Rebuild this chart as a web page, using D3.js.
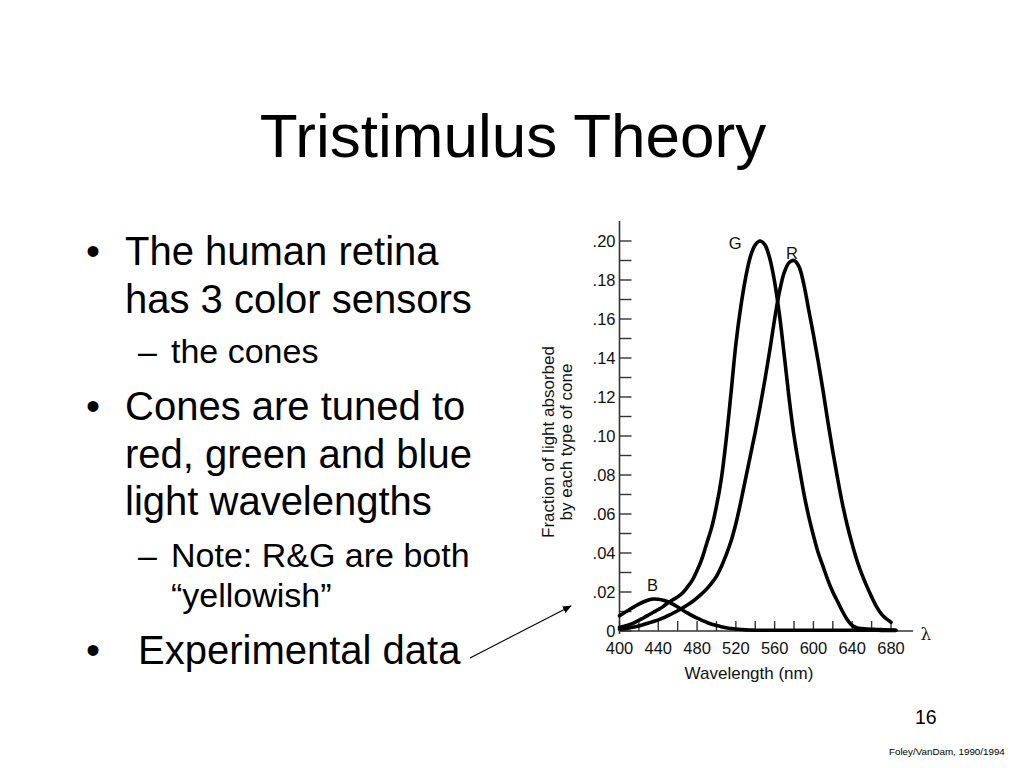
<!DOCTYPE html>
<html><head><meta charset="utf-8">
<script src="https://cdn.jsdelivr.net/npm/d3@7"></script>
<style>
body{margin:0;background:#fff}
svg{display:block;font-family:"Liberation Sans",Arial,Helvetica,sans-serif}
</style>
</head><body>
<svg id="c" width="1024" height="768"></svg>
<script>
// ---- data ----
const wavelengths = [400,405,410,415,420,425,430,435,440,445,450,455,460,465,470,475,480,485,490,495,500,505,510,515,520,525,530,535,540,545,550,555,560,565,570,575,580,585,590,595,600,605,610,615,620,625,630,635,640,645,650,655,660,665,670,675,680,685];
const greenValues = [.0018,.0025,.0032,.0042,.0055,.0068,.0082,.0096,.011,.0125,.0145,.016,.0175,.0195,.0225,.026,.031,.037,.045,.053,.064,.078,.098,.122,.147,.166,.181,.192,.198,.200,.198,.191,.179,.162,.141,.119,.100,.085,.071,.059,.049,.040,.033,.026,.020,.015,.010,.0058,.0028,.0016,.0012,.001,.0009,.0008,.0007,.0006,.0005,.0004];
const redValues = [.001,.0012,.0015,.002,.0026,.0033,.0041,.0049,.0057,.0067,.0079,.0091,.0104,.0118,.0133,.015,.017,.0192,.0216,.0245,.028,.033,.039,.046,.055,.066,.078,.090,.102,.115,.129,.144,.160,.174,.184,.189,.190,.187,.178,.165,.152,.138,.123,.107,.092,.078,.065,.054,.0445,.036,.029,.023,.0175,.0125,.0088,.0063,.0045,null];
const blueValues = [.0078,.0094,.0109,.0124,.0138,.015,.0159,.0164,.0163,.0158,.015,.0138,.0123,.0108,.0093,.0079,.0066,.0054,.0044,.0035,.0028,.0022,.0017,.0013,.001,.0008,.0006,.0005,.0004,.0004,.0004,.0004,.0004,.0004,.0004,.0004,.0004,.0004,.0004,.0004,.0004,.0004,.0004,.0004,.0004,.0004,.0004,.0004,.0004,.0004,.0004,.0004,.0004,.0004,.0003,.0003,.0003,.0003];
const seriesNames = ["G","R","B"];
const xTickValues = [400,440,480,520,560,600,640,680];
const xMinorTicks = [400,420,440,460,480,500,520,540,560,580,600,620,640,660,680];
const yTickValues = [0,.02,.04,.06,.08,.10,.12,.14,.16,.18,.20];
const yTickLabels = ["0",".02",".04",".06",".08",".10",".12",".14",".16",".18",".20"];
const yMinorTicks = [0,.01,.02,.03,.04,.05,.06,.07,.08,.09,.10,.11,.12,.13,.14,.15,.16,.17,.18,.19,.20];
const titleText = "Tristimulus Theory";
const bullets = [
  {level:0, lines:["The human retina","has 3 color sensors"]},
  {level:1, lines:["the cones"]},
  {level:0, lines:["Cones are tuned to","red, green and blue","light wavelengths"]},
  {level:1, lines:["Note: R&G are both","\u201Cyellowish\u201D"]},
  {level:2, lines:["Experimental data"]}
];

// ---- drawing ----
const svg = d3.select("#c");
const x = d3.scaleLinear().domain([400,680]).range([619.5,891]);
const y = d3.scaleLinear().domain([0,0.20]).range([631,241]);

// title
svg.append("text").attr("x",513).attr("y",157).attr("text-anchor","middle")
  .attr("font-size",62).attr("fill","#000").text(titleText);

// bullets
const baselines = [[265,313],[363],[420,468,515],[567,607],[664]];
bullets.forEach((b,i)=>{
  b.lines.forEach((ln,j)=>{
    const by = baselines[i][j];
    if (b.level===0 || b.level===2){
      if(j===0) svg.append("text").attr("x",86).attr("y",by).attr("font-size",40).text("\u2022");
      svg.append("text").attr("x", b.level===2?138:125).attr("y",by).attr("font-size",40).text(ln);
    } else {
      if(j===0) svg.append("text").attr("x",138).attr("y",by).attr("font-size",34).text("\u2013");
      svg.append("text").attr("x",171).attr("y",by).attr("font-size",34).text(ln);
    }
  });
});

// arrow
svg.append("defs").append("marker").attr("id","ah").attr("viewBox","0 0 10 10")
  .attr("refX",9).attr("refY",5).attr("markerWidth",9).attr("markerHeight",9)
  .attr("orient","auto").attr("markerUnits","userSpaceOnUse")
  .append("path").attr("d","M0,1 L10,5 L0,9 Z").attr("fill","#000");
svg.append("line").attr("x1",470).attr("y1",658).attr("x2",571).attr("y2",606)
  .attr("stroke","#000").attr("stroke-width",1.2).attr("marker-end","url(#ah)");

// axes
const g = svg.append("g");
const axisColor = "#333";
g.append("line").attr("x1",x(400)).attr("x2",x(400)).attr("y1",221).attr("y2",634)
  .attr("stroke",axisColor).attr("stroke-width",1.6);
g.append("line").attr("x1",x(400)).attr("x2",913).attr("y1",y(0)).attr("y2",y(0))
  .attr("stroke",axisColor).attr("stroke-width",1.6);
g.selectAll(".yt").data(yMinorTicks).join("line")
  .attr("x1",x(400)).attr("x2",x(400)+12).attr("y1",d=>y(d)).attr("y2",d=>y(d))
  .attr("stroke",axisColor).attr("stroke-width",1.4);
g.selectAll(".xt").data(xMinorTicks).join("line")
  .attr("x1",d=>x(d)).attr("x2",d=>x(d)).attr("y1",y(0)).attr("y2",y(0)-10)
  .attr("stroke",axisColor).attr("stroke-width",1.4);
g.selectAll(".yl").data(yTickValues).join("text")
  .attr("x",x(400)-4).attr("y",d=>y(d)).attr("dy","0.36em").attr("text-anchor","end")
  .attr("font-size",16.5).attr("fill","#111").text((d,i)=>yTickLabels[i]);
g.selectAll(".xl").data(xTickValues).join("text")
  .attr("x",d=>x(d)).attr("y",654).attr("text-anchor","middle")
  .attr("font-size",16.5).attr("fill","#111").text(d=>d);
g.append("text").attr("x",749).attr("y",679).attr("text-anchor","middle")
  .attr("font-size",17).attr("fill","#111").text("Wavelength (nm)");
g.append("text").attr("x",926).attr("y",640).attr("text-anchor","middle")
  .attr("font-size",17).attr("font-family","'DejaVu Serif',serif").attr("fill","#222").text("\u03BB");
const yt = g.append("text").attr("transform","translate(548,442) rotate(-90)")
  .attr("text-anchor","middle").attr("font-size",17).attr("fill","#111");
yt.append("tspan").attr("x",0).attr("dy","0.36em").text("Fraction of light absorbed");
yt.append("tspan").attr("x",0).attr("dy","1.05em").text("by each type of cone");

// curves
const seriesValues = [greenValues, redValues, blueValues];
const line = d3.line().defined(d=>d[1]!==null).x(d=>x(d[0])).y(d=>y(d[1])).curve(d3.curveCatmullRom.alpha(0.5));
seriesValues.forEach(vals=>{
  const pts = wavelengths.map((w,i)=>[w,vals[i]]);
  g.append("path").attr("d",line(pts)).attr("fill","none").attr("stroke","#000")
    .attr("stroke-width",3.6).attr("stroke-linejoin","round").attr("stroke-linecap","round");
});
// curve labels near peaks
const labelOffsets = [[-25,8],[-2,-2],[-1,-8]];
seriesValues.forEach((vals,k)=>{
  let mi = 0; vals.forEach((v,i)=>{ if(v!==null && v>vals[mi]) mi=i; });
  g.append("text").attr("x",x(wavelengths[mi])+labelOffsets[k][0]).attr("y",y(vals[mi])+labelOffsets[k][1])
    .attr("text-anchor","middle").attr("font-size",16.5).attr("fill","#111").text(seriesNames[k]);
});

// footer
svg.append("text").attr("x",915).attr("y",724).attr("font-size",19.5).text("16");
svg.append("text").attr("x",889).attr("y",755).attr("font-size",9.8).text("Foley/VanDam, 1990/1994");
</script>
</body></html>
